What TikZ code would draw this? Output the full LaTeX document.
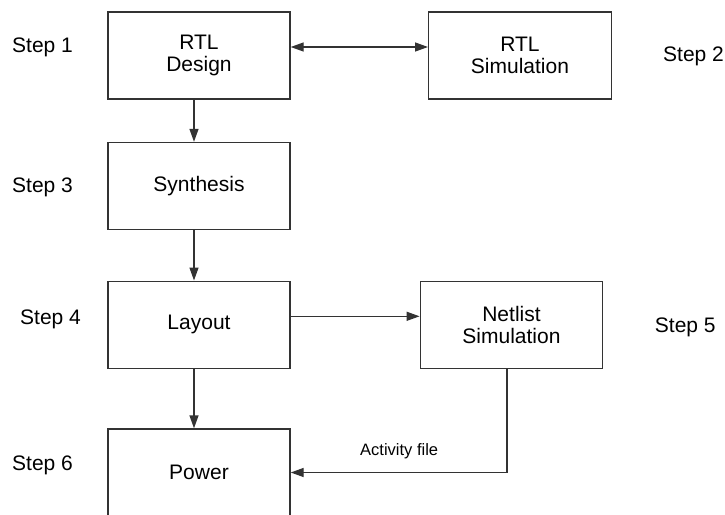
\documentclass[tikz,border=0pt]{standalone}
\usepackage{fontspec}
\setmainfont{Liberation Sans}
\usetikzlibrary{arrows.meta}
\definecolor{linegray}{HTML}{333333}
\begin{document}
\begin{tikzpicture}[x=1pt,y=-1pt,
  box/.style={draw=linegray,line width=1.4pt,minimum width=182pt,minimum height=87pt,inner sep=0pt,align=center,font=\fontsize{21}{22}\selectfont},
  steplbl/.style={anchor=base west,inner sep=0pt,font=\fontsize{21}{22}\selectfont},
  conn/.style={draw=linegray,line width=1.4pt,-{Triangle[length=13pt,width=9pt]}},
  conn2/.style={draw=linegray,line width=1.4pt,{Triangle[length=13pt,width=9pt]}-{Triangle[length=13pt,width=9pt]}}]
\useasboundingbox (0,0) rectangle (725,514);
\clip (0,0) rectangle (725,514);
\node[box] (d1) at (199,55.5) {RTL\\Design};
\node[box,minimum width=182.6pt] (s2) at (520,55.5) {RTL\\Simulation};
\node[box] (syn) at (199,186) {Synthesis};
\node[box] (lay) at (199,324.7) {Layout};
\node[box,minimum width=182.4pt] (net) at (511.5,324.7) {Netlist\\Simulation};
\node[box] (pow) at (199,472.5) {Power};
\node[steplbl] (l1) at (12,52) {Step 1};
\node[steplbl] (l2) at (663,61) {Step 2};
\node[steplbl] (l3) at (12,192.7) {Step 3};
\node[steplbl] (l4) at (20,324.7) {Step 4};
\node[steplbl] (l5) at (654.7,332) {Step 5};
\node[steplbl] (l6) at (12,470.3) {Step 6};
\draw[conn2] ([yshift=8.5pt]d1.east) -- ([yshift=8.5pt]s2.west);
\draw[conn] ([xshift=-5pt]d1.south) -- ([xshift=-5pt]syn.north);
\draw[conn] ([xshift=-5pt]syn.south) -- ([xshift=-5pt]lay.north);
\draw[conn] ([xshift=-5pt]lay.south) -- ([xshift=-5pt]pow.north);
\draw[conn] ([yshift=8.4pt]lay.east) -- ([yshift=8.4pt]net.west);
\draw[conn] ([xshift=-4.5pt]net.south) |- (pow.east);
\node[anchor=base west,inner sep=0pt,font=\fontsize{16.5}{18}\selectfont] (act) at (360,455) {Activity file};
\end{tikzpicture}
\end{document}
